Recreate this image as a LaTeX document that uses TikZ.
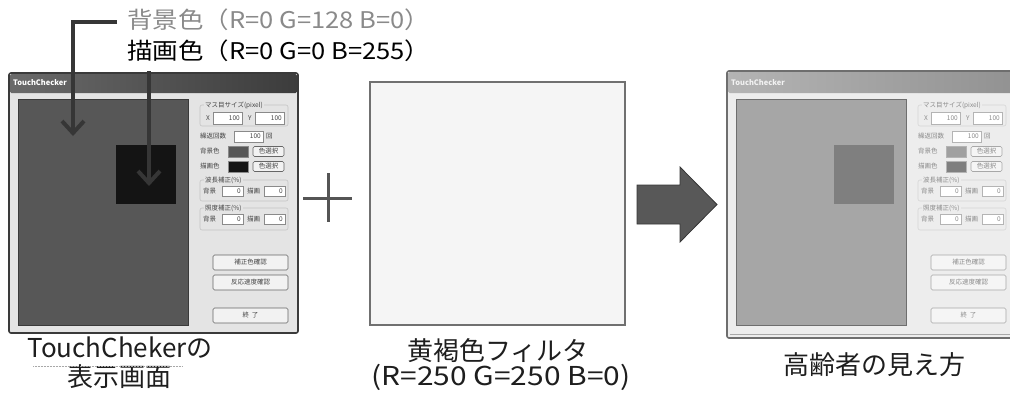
\documentclass[tikz,border=0pt]{standalone}
\usepackage{fontspec}
\setmainfont{Noto Sans CJK JP}
\usetikzlibrary{arrows.meta}
% left window colours
\definecolor{Lframe}{HTML}{3A3A3A}
\definecolor{Lbody}{HTML}{E4E4E4}
\definecolor{LtitleL}{HTML}{6A6A6A}
\definecolor{LtitleR}{HTML}{3C3C3C}
\definecolor{Ltitletext}{HTML}{FFFFFF}
\definecolor{Lcanvas}{HTML}{575757}
\definecolor{Lsq}{HTML}{141414}
\definecolor{Lsw1}{HTML}{575757}
\definecolor{Lsw2}{HTML}{141414}
\definecolor{Ltext}{HTML}{444444}
\definecolor{Lfieldd}{HTML}{8A8A8A}
\definecolor{Lbtn}{HTML}{F2F2F2}
\definecolor{Lbtnd}{HTML}{666666}
\definecolor{Lgroup}{HTML}{C4C4C4}
% right window colours
\definecolor{Rframe}{HTML}{6E6E6E}
\definecolor{Rbody}{HTML}{EDEDED}
\definecolor{RtitleL}{HTML}{B4B4B4}
\definecolor{RtitleR}{HTML}{929292}
\definecolor{Rtitletext}{HTML}{F2F2F2}
\definecolor{Rcanvas}{HTML}{A6A6A6}
\definecolor{Rsq}{HTML}{7F7F7F}
\definecolor{Rsw1}{HTML}{A0A0A0}
\definecolor{Rsw2}{HTML}{7F7F7F}
\definecolor{Rtext}{HTML}{8C8C8C}
\definecolor{Rfieldd}{HTML}{B4B4B4}
\definecolor{Rbtn}{HTML}{F5F5F5}
\definecolor{Rbtnd}{HTML}{A8A8A8}
\definecolor{Rgroup}{HTML}{D6D6D6}
% other colours
\definecolor{connc}{HTML}{363636}
\definecolor{lightlab}{HTML}{8A8A8A}
\definecolor{plusc}{HTML}{555555}
\definecolor{bigarrow}{HTML}{585858}
\definecolor{filterfill}{HTML}{F5F5F5}
\definecolor{filterdraw}{HTML}{707070}
\definecolor{labc}{HTML}{1E1E1E}
\definecolor{ulc}{HTML}{A8A8A8}

\tikzset{
  ctl/.style={font=\fontsize{6.5}{7}\selectfont, inner sep=0pt},
  fieldbox/.style={fill=white, line width=0.5pt},
  btnbox/.style={rounded corners=1.5pt, line width=0.6pt, inner sep=0pt,
     font=\fontsize{6.5}{7}\selectfont},
  toplab/.style={font=\fontsize{23}{26}\selectfont, inner sep=0pt, anchor=west,
     text height=17pt, text depth=4pt},
  botlab/.style={font=\fontsize{26}{29}\selectfont, inner sep=0pt, text=labc,
     text height=19pt, text depth=4pt},
  conn/.style={draw=connc, line width=4pt,
     -{Straight Barb[length=12pt,width=22pt,line width=4pt]}},
}

% window drawing: #1 colour prefix, #2 x shift, #3 top, #4 bottom
\newcommand\tcwin[4]{%
\begin{scope}[xshift=#2pt, name prefix=#1-]
  \filldraw[draw=#1frame, fill=#1body, line width=1.6pt, rounded corners=2pt]
     (9,#3) rectangle (298,#4);
  \shade[left color=#1titleL, right color=#1titleR, rounded corners=1.5pt]
     (10,{#3+1}) rectangle (297,93);
  \node[inner sep=0pt, anchor=west, text=#1titletext,
        font=\fontsize{7.5}{8}\selectfont\bfseries] (title) at (13,83) {TouchChecker};
  \filldraw[draw=#1frame, fill=#1canvas, line width=0.8pt] (18,99) rectangle (188,325);
  \fill[#1sq] (116,145) rectangle (176,204);
  % group: mass size
  \draw[#1group, rounded corners=2pt, line width=0.6pt] (200,105) rectangle (288,126);
  \node[ctl, text=#1text, fill=#1body, anchor=west, inner xsep=1pt] (g1) at (204,105) {マス目サイズ(pixel)};
  \node[ctl, text=#1text, anchor=west] (xl) at (206,118) {X};
  \filldraw[fieldbox, draw=#1fieldd] (213,112) rectangle (242,124);
  \node[ctl, text=#1text, anchor=east] (xv) at (240,118) {100};
  \node[ctl, text=#1text, anchor=west] (yl) at (248,118) {Y};
  \filldraw[fieldbox, draw=#1fieldd] (255,112) rectangle (284,124);
  \node[ctl, text=#1text, anchor=east] (yv) at (282,118) {100};
  % repeat count
  \node[ctl, text=#1text, anchor=west] (rl) at (200,136) {繰返回数};
  \filldraw[fieldbox, draw=#1fieldd] (234,131) rectangle (263,142);
  \node[ctl, text=#1text, anchor=east] (rv) at (261,136.5) {100};
  \node[ctl, text=#1text, anchor=west] (ru) at (266,136.5) {回};
  % colours
  \node[ctl, text=#1text, anchor=west] (bgl) at (200,151.5) {背景色};
  \filldraw[draw=#1fieldd, fill=#1sw1, line width=0.5pt] (228,146) rectangle (248,157);
  \node[btnbox, draw=#1btnd, fill=#1btn, text=#1text, minimum width=31pt, minimum height=10pt]
     (bgb) at (268.5,151.5) {色選択};
  \node[ctl, text=#1text, anchor=west] (fgl) at (200,166.5) {描画色};
  \filldraw[draw=#1fieldd, fill=#1sw2, line width=0.5pt] (228,161) rectangle (248,172);
  \node[btnbox, draw=#1btnd, fill=#1btn, text=#1text, minimum width=31pt, minimum height=10pt]
     (fgb) at (268.5,166.5) {色選択};
  % group: wavelength correction
  \draw[#1group, rounded corners=2pt, line width=0.6pt] (200,180) rectangle (288,201);
  \node[ctl, text=#1text, fill=#1body, anchor=west, inner xsep=1pt] (g2) at (204,180) {波長補正(\%)};
  \node[ctl, text=#1text, anchor=west] (w1l) at (203,191) {背景};
  \filldraw[fieldbox, draw=#1fieldd] (222,186) rectangle (243,196);
  \node[ctl, text=#1text, anchor=east] (w1v) at (241,191) {0};
  \node[ctl, text=#1text, anchor=west] (w2l) at (247,191) {描画};
  \filldraw[fieldbox, draw=#1fieldd] (264,186) rectangle (285,196);
  \node[ctl, text=#1text, anchor=east] (w2v) at (283,191) {0};
  % group: illuminance correction
  \draw[#1group, rounded corners=2pt, line width=0.6pt] (200,208) rectangle (288,230);
  \node[ctl, text=#1text, fill=#1body, anchor=west, inner xsep=1pt] (g3) at (204,208) {照度補正(\%)};
  \node[ctl, text=#1text, anchor=west] (i1l) at (203,219) {背景};
  \filldraw[fieldbox, draw=#1fieldd] (222,214) rectangle (243,224);
  \node[ctl, text=#1text, anchor=east] (i1v) at (241,219) {0};
  \node[ctl, text=#1text, anchor=west] (i2l) at (247,219) {描画};
  \filldraw[fieldbox, draw=#1fieldd] (264,214) rectangle (285,224);
  \node[ctl, text=#1text, anchor=east] (i2v) at (283,219) {0};
  % buttons
  \node[btnbox, draw=#1btnd, fill=#1btn, text=#1text, minimum width=75pt, minimum height=15pt]
     (b1) at (250.5,262.5) {補正色確認};
  \node[btnbox, draw=#1btnd, fill=#1btn, text=#1text, minimum width=75pt, minimum height=15pt]
     (b2) at (250.5,282.5) {反応速度確認};
  \node[btnbox, draw=#1btnd, fill=#1btn, text=#1text, minimum width=75pt, minimum height=15pt]
     (b3) at (250.5,315.5) {終\ \ 了};
\end{scope}}

\begin{document}
\begin{tikzpicture}[x=1pt, y=-1pt]
\useasboundingbox (0,0) rectangle (1010,400);
\clip (0,0) rectangle (1010,400);

% left window (original display)
\tcwin{L}{0}{73}{333}
% right window (as seen by the elderly)
\tcwin{R}{718}{71}{338}
\draw[Rframe!60, line width=0.5pt] (730,334) -- (1010,334);

% plus sign
\coordinate (pl) at (303,198); \coordinate (pr) at (352,198);
\coordinate (pt) at (328,173); \coordinate (pb) at (328,222);
\draw[plusc, line width=3pt] (pl) -- (pr) (pt) -- (pb);

% yellow-brown filter
\node[draw=filterdraw, fill=filterfill, line width=1.2pt, minimum width=255pt,
      minimum height=243pt, inner sep=0pt] (filter) at (497.5,203.5) {};

% big arrow
\filldraw[draw=connc, fill=bigarrow, line width=0.8pt]
  (637,185) -- (680,185) -- (680,167) -- (717,204.5) -- (680,242) -- (680,224) -- (637,224) -- cycle;

% top labels
\node[toplab, text=lightlab] (bgtxt) at (127,22) {\scalebox{1.11}[1]{背景色（R=0 G=128 B=0）}};
\node[toplab] (fgtxt) at (127,53) {\scalebox{1.11}[1]{描画色（R=0 G=0 B=255）}};

% connectors
\coordinate (tip1) at (73,136);
\coordinate (s2) at (149,71);
\coordinate (tip2) at (149,186);
\draw[conn] ([xshift=-10pt]bgtxt.west) -| (tip1);
\draw[conn] (s2) -- (tip2);

% bottom labels
\node[botlab] (lab1a) at (120,350) {TouchChekerの};
\node[botlab] (lab1b) at (119,379) {表示画面};
\coordinate (ul1) at (33,366); \coordinate (ul2) at (183,366);
\draw[ulc, line width=1pt, dash pattern=on 1pt off 0.5pt] (ul1) -- (ul2);
\node[botlab] (lab2a) at (498,353) {黄褐色フィルタ};
\node[botlab] (lab2b) at (501,378) {\scalebox{1.15}[1]{(R=250 G=250 B=0)}};
\node[botlab] (lab3) at (874,367) {高齢者の見え方};
\end{tikzpicture}
\end{document}
